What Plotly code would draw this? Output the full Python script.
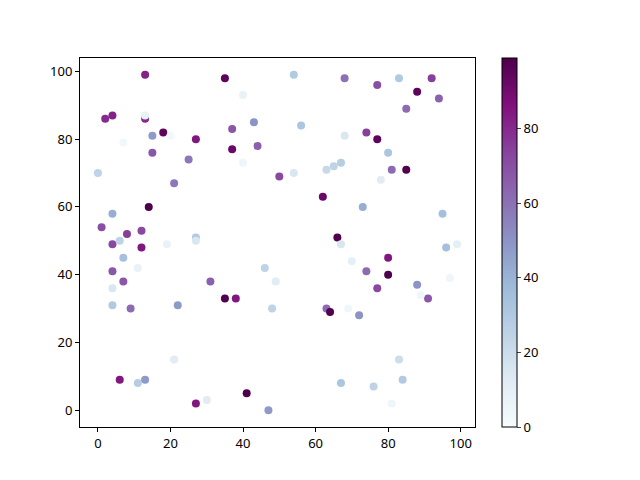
import plotly.graph_objects as go

x_vals = [0, 2, 4, 7, 13, 13, 13, 18, 15, 15, 20, 25, 27, 21, 35, 37, 37, 40, 40, 43,
          44, 1, 4, 4, 6, 8, 7, 12, 12, 11, 4, 4, 7, 4, 9, 14, 19, 27, 27, 22,
          31, 35, 38, 6, 11, 13, 21, 27, 30, 41, 47, 46, 49, 48, 54, 54, 56, 50, 62, 63,
          65, 67, 68, 68, 74, 77, 77, 80, 78, 81, 83, 85, 88, 92, 94, 85, 73, 66, 67, 70,
          74, 77, 80, 80, 88, 91, 89, 95, 96, 99, 97, 63, 64, 69, 72, 83, 84, 67, 76, 81]
y_vals = [70, 86, 87, 79, 99, 86, 87, 82, 81, 76, 81, 74, 80, 67, 98, 83, 77, 93, 73, 85,
          78, 54, 58, 49, 50, 52, 45, 53, 48, 42, 41, 36, 38, 31, 30, 60, 49, 51, 50, 31,
          38, 33, 33, 9, 8, 9, 15, 2, 3, 5, 0, 42, 38, 30, 99, 70, 84, 69, 63, 71,
          72, 73, 81, 98, 82, 80, 96, 76, 68, 71, 98, 89, 94, 98, 92, 71, 60, 51, 49, 44,
          41, 36, 45, 40, 37, 33, 34, 58, 48, 49, 39, 30, 29, 30, 28, 15, 9, 8, 7, 2]
c_vals = [25, 80, 82, 3, 82, 80, 8, 95, 48, 68, 3, 58, 85, 58, 95, 68, 92, 8, 5, 50,
          65, 70, 42, 72, 25, 75, 35, 72, 85, 8, 68, 15, 68, 30, 62, 99, 8, 30, 15, 48,
          65, 98, 85, 85, 28, 48, 12, 85, 12, 99, 48, 25, 12, 25, 30, 15, 32, 72, 92, 22,
          25, 28, 15, 60, 75, 95, 70, 32, 12, 62, 30, 62, 95, 75, 65, 98, 42, 98, 15, 10,
          62, 72, 85, 99, 50, 68, 5, 35, 35, 10, 5, 62, 98, 5, 50, 20, 30, 32, 25, 5]

fig = go.Figure(go.Scatter(
    x=x_vals, y=y_vals, mode="markers",
    marker=dict(
        size=8, color=c_vals, colorscale="BuPu", cmin=0, cmax=99,
        line=dict(width=0),
        colorbar=dict(
            thickness=15, len=1, lenmode="fraction", y=0.5, yanchor="middle",
            x=1.068, xanchor="left", xpad=0, ypad=0,
            outlinewidth=1, outlinecolor="black",
            tickvals=[0, 20, 40, 60, 80], ticks="outside", ticklen=4,
            tickfont=dict(size=13, color="black"),
        ),
    ),
    showlegend=False,
))

axis_common = dict(
    showgrid=False, zeroline=False, showline=True, linecolor="black", linewidth=1,
    mirror=True, ticks="outside", ticklen=4, tickcolor="black",
    tickfont=dict(size=13, color="black"),
)
fig.update_xaxes(range=[-4.95, 103.95], tickvals=[0, 20, 40, 60, 80, 100], **axis_common)
fig.update_yaxes(range=[-4.95, 103.95], tickvals=[0, 20, 40, 60, 80, 100], **axis_common)

fig.update_layout(
    width=640, height=480,
    margin=dict(l=72, r=173, t=50, b=61, autoexpand=False),
    paper_bgcolor="white", plot_bgcolor="white",
    font=dict(family="Noto Sans", color="black"),
)

fig.write_html("out.html")
